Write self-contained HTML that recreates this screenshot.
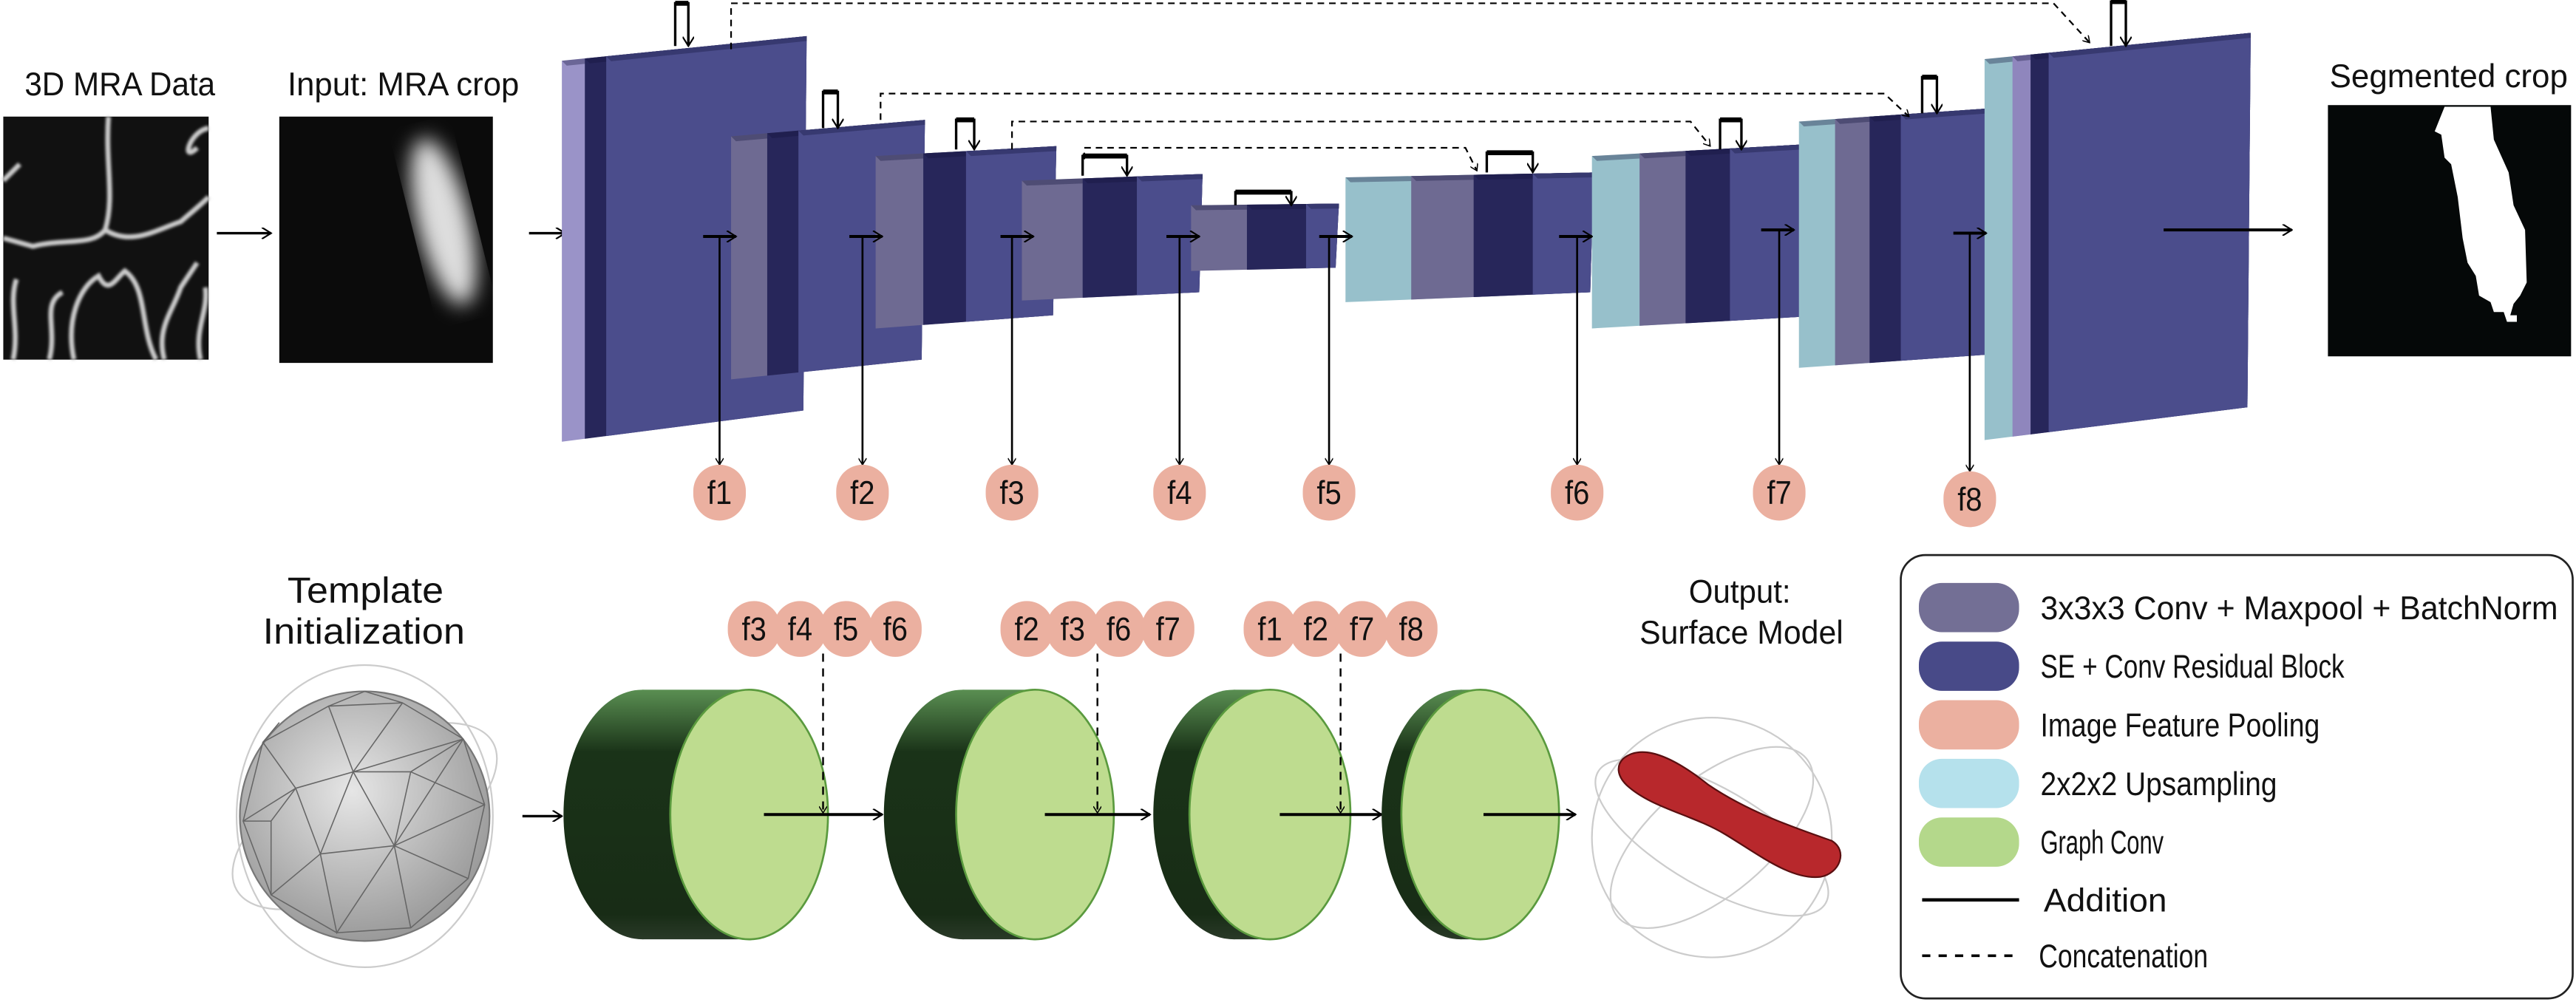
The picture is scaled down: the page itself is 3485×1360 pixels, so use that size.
<!DOCTYPE html>
<html><head><meta charset="utf-8"><style>
html,body{margin:0;padding:0;background:#fff;}
svg{display:block;}
text{font-family:"Liberation Sans",sans-serif;fill:#111;}
</style></head><body>
<svg id="fig" width="3485" height="1360" viewBox="0 0 1568 612" preserveAspectRatio="none" xmlns="http://www.w3.org/2000/svg">
<defs>
<marker id="ah" viewBox="0 0 10 10" refX="9" refY="5" markerWidth="7" markerHeight="7" orient="auto" markerUnits="userSpaceOnUse"><path d="M1,0 L9,5 L1,10" fill="none" stroke="#000" stroke-width="1.4"/></marker>
<marker id="ahs" viewBox="0 0 10 10" refX="9" refY="5" markerWidth="5" markerHeight="5" orient="auto" markerUnits="userSpaceOnUse"><path d="M1,0 L9,5 L1,10" fill="none" stroke="#000" stroke-width="1.4"/></marker>
<filter id="blur4"><feGaussianBlur stdDeviation="6"/></filter>
<filter id="blur1"><feGaussianBlur stdDeviation="0.8"/></filter>
<radialGradient id="sph" cx="45%" cy="40%" r="60%"><stop offset="0" stop-color="#e6e6e6"/><stop offset="1" stop-color="#9a9a9a"/></radialGradient>
<linearGradient id="cylg" x1="0" y1="0" x2="0" y2="1"><stop offset="0" stop-color="#5a8f52"/><stop offset="0.25" stop-color="#1a3318"/><stop offset="0.9" stop-color="#182c16"/><stop offset="1" stop-color="#2a3a28"/></linearGradient>
</defs>

<text x="15" y="58" font-size="20" textLength="116" lengthAdjust="spacingAndGlyphs">3D MRA Data</text>
<g>
<rect x="2" y="71" width="125" height="148" fill="#111"/>
<g fill="none" stroke="#ccc" stroke-width="3" filter="url(#blur1)">
<path d="M66,71 C64,100 70,120 64,140 C56,150 40,145 20,150 L2,145"/>
<path d="M64,140 C80,150 95,140 110,135 C118,128 122,125 127,120"/>
<path d="M45,219 C40,195 48,175 60,168 C66,180 70,170 76,165 C90,175 85,200 95,219"/>
<path d="M30,219 C35,200 25,185 38,178"/>
<path d="M100,219 C95,200 105,190 110,175 L120,160"/>
<path d="M2,110 L12,100 M120,90 C110,100 115,80 127,78"/>
<path d="M8,219 C12,200 5,185 10,170 M122,219 C118,200 127,190 125,175"/>
</g></g>
<path d="M132,142 L165,142" stroke="#000" stroke-width="1.5" marker-end="url(#ah)"/>
<text x="175" y="58" font-size="20" textLength="141" lengthAdjust="spacingAndGlyphs">Input: MRA crop</text>
<g>
<rect x="170" y="71" width="130" height="150" fill="#0b0b0b"/>
<ellipse cx="270" cy="135" rx="16" ry="52" transform="rotate(-14 270 135)" fill="#ddd" filter="url(#blur4)"/>
</g>
<path d="M322,142 L344,142" stroke="#000" stroke-width="1.5" marker-end="url(#ah)"/>

<g id="blocks"></g>
<g id="conns"></g>

<text x="1418" y="53" font-size="20" textLength="145" lengthAdjust="spacingAndGlyphs">Segmented crop</text>
<g>
<rect x="1417" y="64" width="148" height="153" fill="#050808"/>
<path d="M1488,65 L1516,65 L1518,85 L1527,105 L1530,125 L1537,140 L1538,172 L1534,180 L1530,185 L1528,192 L1532,192 L1532,196 L1526,196 L1524,190 L1518,190 L1516,184 L1509,180 L1507,168 L1502,160 L1499,145 L1496,120 L1492,100 L1488,96 L1486,82 L1482,80 Z" fill="#fff"/>
</g>

<text x="175" y="367" font-size="22" textLength="95" lengthAdjust="spacingAndGlyphs">Template</text>
<text x="160" y="392" font-size="22" textLength="123" lengthAdjust="spacingAndGlyphs">Initialization</text>
<g>
<ellipse cx="222" cy="497" rx="78" ry="92" fill="none" stroke="#ccc" stroke-width="1"/>
<ellipse cx="222" cy="497" rx="90" ry="40" fill="none" stroke="#ccc" stroke-width="1" transform="rotate(-30 222 497)"/>
<circle cx="222" cy="497" r="76" fill="url(#sph)" stroke="#777" stroke-width="1"/>
<g stroke="#666" stroke-width="0.7" fill="none">
<path d="M160,452 L200,430 L245,428 L282,450 L295,490 L285,535 L250,565 L205,568 L165,545 L148,500 Z"/>
<path d="M200,430 L215,470 L245,428 M215,470 L282,450 M215,470 L180,480 L160,452 M180,480 L148,500 M180,480 L195,520 L165,545 M195,520 L215,470 M195,520 L240,515 L215,470 M240,515 L282,450 M240,515 L295,490 M240,515 L285,535 M240,515 L250,565 M240,515 L205,568 L195,520"/>
<path d="M222,421 L200,430 M222,421 L245,428 M160,452 L170,440 M180,480 L165,500 L148,500 M165,500 L165,545 M215,470 L250,470 L282,450 M250,470 L240,515 M250,470 L295,490"/>
</g></g>
<path d="M318,497 L342,497" stroke="#000" stroke-width="1.5" marker-end="url(#ah)"/>
<g id="cyls"></g>
<g id="badges2"></g>

<text x="1028" y="367" font-size="20" textLength="62" lengthAdjust="spacingAndGlyphs">Output:</text>
<text x="998" y="392" font-size="20" textLength="124" lengthAdjust="spacingAndGlyphs">Surface Model</text>
<g>
<circle cx="1042" cy="510" r="73" fill="none" stroke="#ccc" stroke-width="1"/>
<ellipse cx="1042" cy="510" rx="80" ry="30" fill="none" stroke="#ccc" stroke-width="1" transform="rotate(30 1042 510)"/>
<ellipse cx="1042" cy="510" rx="75" ry="35" fill="none" stroke="#ccc" stroke-width="1" transform="rotate(-40 1042 510)"/>
<path d="M988,462 C1000,452 1020,462 1040,478 C1065,495 1095,505 1115,512 C1125,518 1120,532 1108,534 C1090,536 1070,520 1050,508 C1030,496 1005,492 990,478 C984,472 984,466 988,462 Z" fill="#b8282c" stroke="#5a0f10" stroke-width="1"/>
</g>

<g>
<rect x="1157" y="338" width="409" height="270" rx="15" fill="#fff" stroke="#222" stroke-width="1.2"/>
<g id="legItems"></g>
<line x1="1170" y1="548" x2="1229" y2="548" stroke="#000" stroke-width="2"/>
<text x="1244" y="555" font-size="20" textLength="75" lengthAdjust="spacingAndGlyphs">Addition</text>
<line x1="1170" y1="582" x2="1229" y2="582" stroke="#000" stroke-width="1.6" stroke-dasharray="5,5"/>
<text x="1241" y="589" font-size="20" textLength="103" lengthAdjust="spacingAndGlyphs">Concatenation</text>
</g>
</svg>
<script>
const NS="http://www.w3.org/2000/svg";
function mk(tag,attrs,parent){const e=document.createElementNS(NS,tag);for(const k in attrs)e.setAttribute(k,attrs[k]);parent.appendChild(e);return e;}
const C={cyan:'#97c0cb',pur:'#6e6a92',lav:'#9a93c8',dark:'#27265a',blue:'#4b4d8c'};
const blockNames=['enc1','enc2','enc3','enc4','bottleneck','dec1','dec2','dec3','dec4'];
const blockSlabs=[
 [[342,C.lav],[356,C.dark],[369,C.blue]],
 [[445,C.pur],[467,C.dark],[486,C.blue]],
 [[533,C.pur],[562,C.dark],[588,C.blue]],
 [[622,C.pur],[659,C.dark],[692,C.blue]],
 [[725,C.pur],[759,C.dark],[795,C.blue]],
 [[819,C.cyan],[859,C.pur],[897,C.dark],[933,C.blue]],
 [[969,C.cyan],[998,C.pur],[1026,C.dark],[1053,C.blue]],
 [[1095,C.cyan],[1117,C.pur],[1138,C.dark],[1157,C.blue]],
 [[1208,C.cyan],[1225,'#8f86bd'],[1236,C.dark],[1247,C.blue]]];
const blockGeom=[[491,37,22,269,250],[563,83,73,231,219],[643,95,89,200,192],[732,110,106,183,178],[815,125,124,165,163],[970,108,105,184,178],[1097,95,88,200,193],[1211,74,66,224,216],[1370,36,20,268,248]];
const B=document.getElementById('blocks');
blockSlabs.forEach((sl,i)=>{
 const [R,tL,tR,bL,bR]=blockGeom[i];const L=sl[0][0];
 const ty=x=>tL+(tR-tL)*(x-L)/(R-L), by=x=>bL+(bR-bL)*(x-L)/(R-L);
 const g=mk('g',{},B);
 
 
 sl.forEach((s,j)=>{
  const xa=s[0], xb=R;
  mk('polygon',{points:`${xa},${ty(xa)} ${xb},${ty(xb)} ${xb-2},${by(xb)} ${xa},${by(xa)}`,fill:s[1]},g);
  mk('polygon',{points:`${xa},${ty(xa)} ${xb},${ty(xb)} ${xb},${ty(xb)+3} ${xa+3},${ty(xa)+3}`,fill:'rgba(20,20,60,0.35)'},g);
 });
});
const K=document.getElementById('conns');
const loops=[[411,419,2,28],[501,510,56,78],[582,593,73,91],[659,686,95,107],[752,786,117,125],[905,933,93,105],[1047,1060,73,91],[1170,1179,47,69],[1285,1294,1,28]];
loops.forEach((l,i)=>{const p=mk('path',{d:`M${l[0]},${l[3]} L${l[0]},${l[2]} L${l[1]},${l[2]} L${l[1]},${l[3]}`,fill:'none',stroke:'#000','stroke-width':1.5,'marker-end':'url(#ah)'},K);
 
 
 const t=mk('line',{x1:l[0],y1:l[2],x2:l[1],y2:l[2],stroke:'#000','stroke-width':3},K);
 
 });
const skips=[[445,30,2,1250,1272,26],[536,73,57,1147,1162,71],[616,91,74,1029,1041,89],[660,97,90,892,899,104]];
skips.forEach((s,i)=>{const p=mk('path',{d:`M${s[0]},${s[1]} L${s[0]},${s[2]} L${s[3]},${s[2]} L${s[4]},${s[5]}`,fill:'none',stroke:'#000','stroke-width':1,'stroke-dasharray':'4,3','marker-end':'url(#ahs)'},K);
 
 });
const taps=[['f1',438,428,144,300],['f2',525,517,144,300],['f3',616,609,144,300],['f4',718,710,144,300],['f5',809,803,144,300],['f6',960,949,144,300],['f7',1083,1072,140,300],['f8',1199,1189,142,304]];
function badge(par,label,cx,cy){const g=mk('g',{},par);
 
 
 mk('rect',{x:cx-16,y:cy-17,width:32,height:34,rx:16,fill:'#ebb0a0'},g);
 const t=mk('text',{x:cx-7.5,y:cy+7,'font-size':20,textLength:15,lengthAdjust:'spacingAndGlyphs'},g);t.textContent=label;}
taps.forEach(t=>{const [lab,x,x0,y,cy]=t;
 const a=mk('path',{d:`M${x0},${y} L${x0+20},${y}`,stroke:'#000','stroke-width':1.8,fill:'none','marker-end':'url(#ah)'},K);
 
 
 const v=mk('path',{d:`M${x},${y} L${x},${cy-17}`,stroke:'#000','stroke-width':1.2,fill:'none','marker-end':'url(#ahs)'},K);
 
 
 badge(K,lab,x,cy);});
const out=mk('path',{d:'M1317,140 L1395,140',stroke:'#000','stroke-width':1.8,fill:'none','marker-end':'url(#ah)'},K);


const CY=document.getElementById('cyls');
// [backCx, faceCx, rx, arrowStart, arrowEnd]
const cyls=[[391,456,48,465,537],[586,630,48,636,700],[751,773,49,779,841],[889,901,48,903,959]];
cyls.forEach((c,i)=>{const [bx,fx,rx,a0,a1]=c;const g=mk('g',{},CY);
 
 
 mk('ellipse',{cx:bx,cy:496,rx:rx,ry:76,fill:'url(#cylg)'},g);
 mk('rect',{x:bx,y:420,width:fx-bx,height:152,fill:'url(#cylg)'},g);
 mk('ellipse',{cx:fx,cy:496,rx:rx,ry:76,fill:'#bedc8f',stroke:'#5a9a3e','stroke-width':1.2},g);
 const a=mk('path',{d:`M${a0},496 L${a1},496`,stroke:'#000','stroke-width':1.8,fill:'none','marker-end':'url(#ah)'},g);
 
 });
const BG=document.getElementById('badges2');
const groups=[[['f3','f4','f5','f6'],[459,487,515,545],501],[['f2','f3','f6','f7'],[625,653,681,711],668],[['f1','f2','f7','f8'],[773,801,829,859],816]];
groups.forEach((gr,i)=>{const d=mk('path',{d:`M${gr[2]},398 L${gr[2]},495`,stroke:'#000','stroke-width':1.1,'stroke-dasharray':'5,4',fill:'none','marker-end':'url(#ahs)'},BG);
 
 
 gr[0].forEach((l,j)=>badge(BG,l,gr[1][j],383));});
const LI=document.getElementById('legItems');
const legLabels=['3x3x3 Conv + Maxpool + BatchNorm','SE + Conv Residual Block','Image Feature Pooling','2x2x2 Upsampling','Graph Conv'];
const legColors=['#736f95','#484a88','#ebb0a0','#b5e1ec','#b4d88b'];
const legW=[315,185,170,144,75];
legLabels.forEach((l,i)=>{const y=370+35.7*i;
 const r=mk('rect',{x:1168,y:y-15,width:61,height:30,rx:14,fill:legColors[i]},LI);
 
 
 const t=mk('text',{x:1242,y:y+7,'font-size':20,textLength:legW[i],lengthAdjust:'spacingAndGlyphs'},LI);t.textContent=l;
 
 });
</script>
</body></html>
